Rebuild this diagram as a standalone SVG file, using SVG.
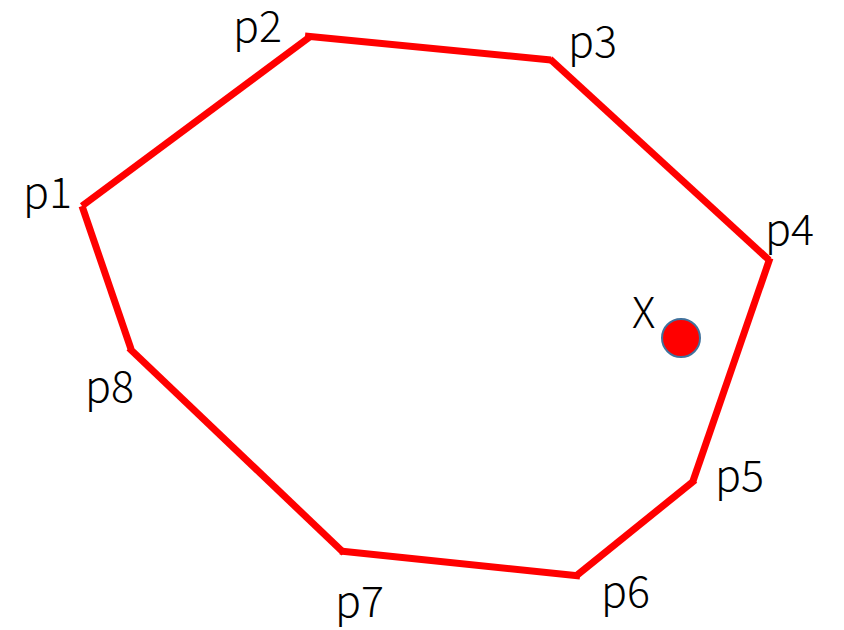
<svg xmlns="http://www.w3.org/2000/svg" width="844" height="630" viewBox="0 0 844 630">
<style>
.e{stroke:#ff0000;stroke-width:7;fill:none;stroke-linecap:butt}
.t{font-family:"Noto Sans CJK JP","Noto Sans",sans-serif;font-size:43px;font-weight:300;fill:#000}
</style>
<rect width="844" height="630" fill="#fff"/>
<g id="connectors">
<line class="e" x1="82" y1="206" x2="311" y2="36"/>
<line class="e" x1="305" y1="36" x2="551" y2="60"/>
<line class="e" x1="550" y1="59" x2="769" y2="260"/>
<line class="e" x1="770" y1="258" x2="693" y2="481"/>
<line class="e" x1="695" y1="480" x2="576" y2="576"/>
<line class="e" x1="580" y1="576" x2="340" y2="551"/>
<line class="e" x1="344" y1="553" x2="129" y2="348"/>
<line class="e" x1="131" y1="349" x2="82" y2="206"/>
</g>
<g id="p1"><text class="t" x="23" y="208">p1</text></g>
<g id="p2"><text class="t" x="233" y="42">p2</text></g>
<g id="p3"><text class="t" x="568" y="57">p3</text></g>
<g id="p4"><text class="t" x="765" y="245">p4</text></g>
<g id="p5"><text class="t" x="715" y="491">p5</text></g>
<g id="p6"><text class="t" x="601" y="607">p6</text></g>
<g id="p7"><text class="t" x="335" y="617">p7</text></g>
<g id="p8"><text class="t" x="85" y="402">p8</text></g>
<g id="X"><text class="t" x="632" y="328">X</text><circle cx="681" cy="338" r="19" fill="#ff0000" stroke="#41719c" stroke-width="2"/></g>
</svg>
